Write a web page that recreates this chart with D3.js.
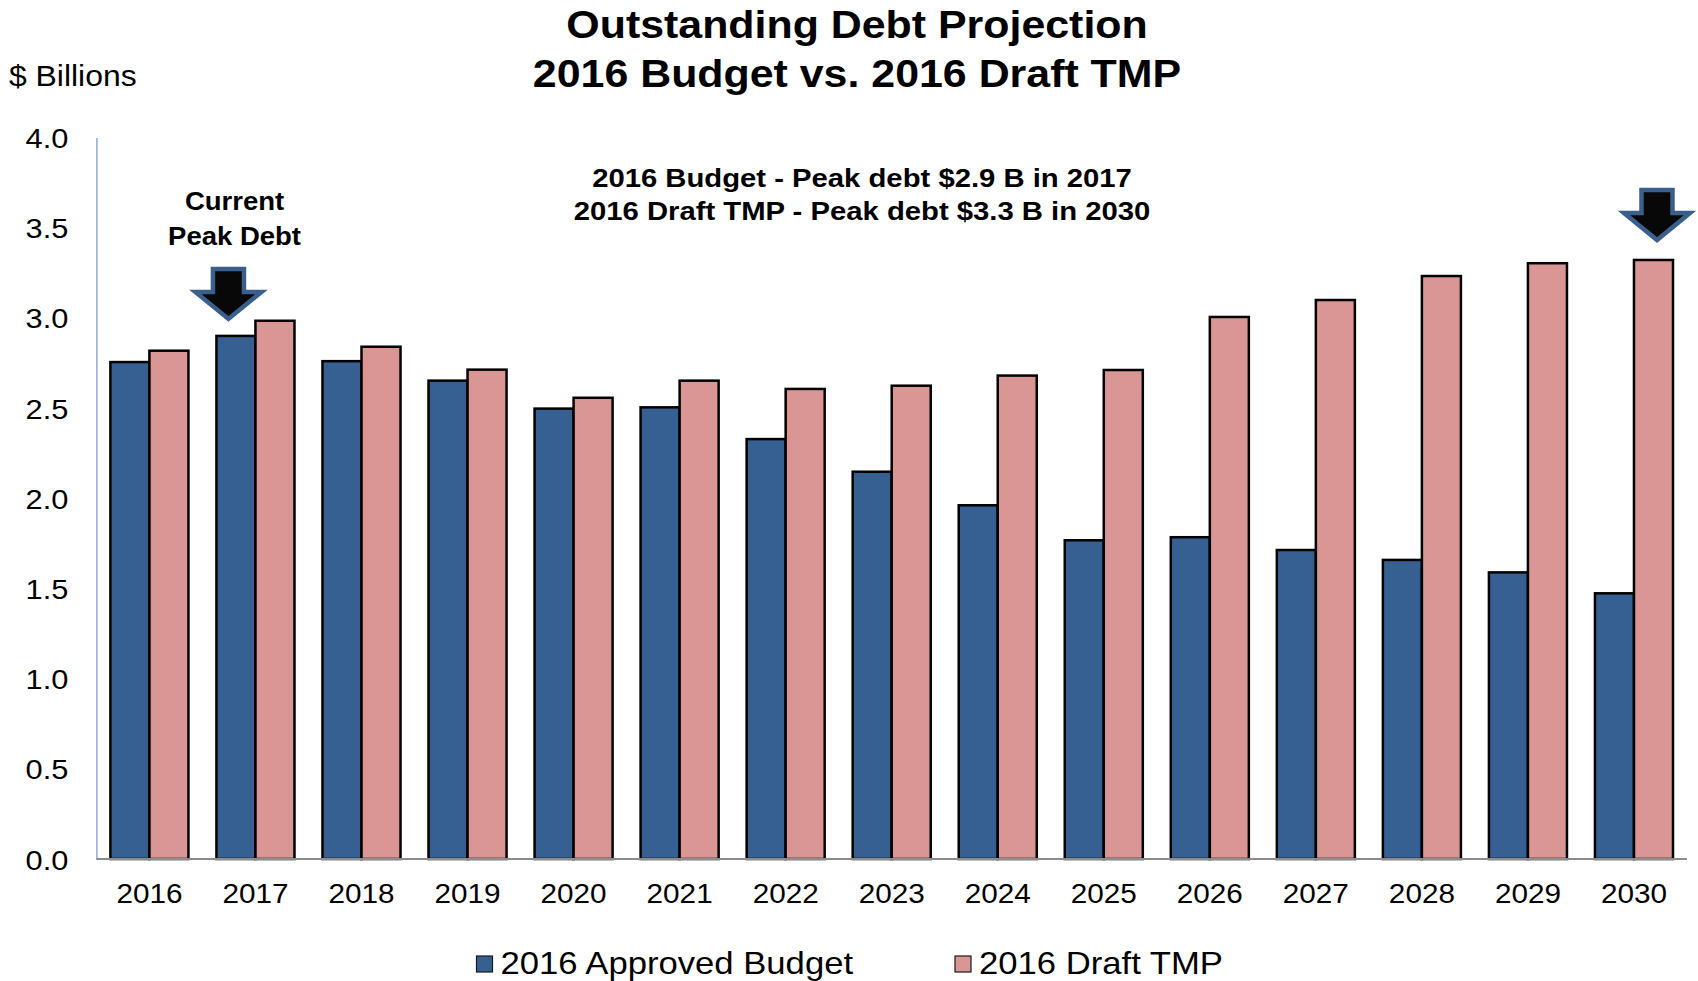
<!DOCTYPE html>
<html>
<head>
<meta charset="utf-8">
<script src="https://cdn.jsdelivr.net/npm/d3@7/dist/d3.min.js"></script>
<style>
  html, body { margin: 0; padding: 0; background: #ffffff; }
  svg { display: block; }
  text { font-family: "Liberation Sans", Arial, Helvetica, sans-serif; fill: #000; }
</style>
</head>
<body>
<svg id="chart" width="1698" height="981"></svg>
<script>
// ---- data -------------------------------------------------------------
const years = ["2016","2017","2018","2019","2020","2021","2022","2023",
               "2024","2025","2026","2027","2028","2029","2030"];
// Outstanding debt, $ billions
const approvedBudget = [2.755, 2.900, 2.760, 2.652, 2.497, 2.504, 2.328, 2.147,
                        1.961, 1.767, 1.784, 1.713, 1.658, 1.589, 1.473];
const draftTMP       = [2.818, 2.984, 2.840, 2.713, 2.557, 2.652, 2.606, 2.624,
                        2.680, 2.711, 3.005, 3.099, 3.232, 3.303, 3.321];
const seriesNames  = ["2016 Approved Budget", "2016 Draft TMP"];
const seriesColors = ["#376092", "#d99694"];
const yTicks = [0, 0.5, 1.0, 1.5, 2.0, 2.5, 3.0, 3.5, 4.0];

const titleLines = ["Outstanding Debt Projection", "2016 Budget vs. 2016 Draft TMP"];
const noteLines  = ["2016 Budget - Peak debt $2.9 B in 2017",
                    "2016 Draft TMP - Peak debt $3.3 B in 2030"];
const unitLabel  = "$ Billions";
const peakLabel  = ["Current", "Peak Debt"];

// ---- layout -----------------------------------------------------------
const svg = d3.select("#chart");
const SX = 1.1;   // horizontal widening applied to all text

const x = d3.scaleBand().domain(years).range([96.4, 1687])
  .paddingInner(0.264).paddingOuter(0.132);
const xInner = d3.scaleBand().domain([0, 1]).range([0, x.bandwidth()]);
const y = d3.scaleLinear().domain([0, 4]).range([859, 137.5]);

function label(g, str, px, py, size, weight, anchor) {
  return g.append("text")
    .attr("transform", `translate(${px},${py}) scale(${SX},1)`)
    .attr("text-anchor", anchor || "middle")
    .style("font-size", size + "px")
    .style("font-weight", weight || "normal")
    .text(str);
}

// ---- titles -----------------------------------------------------------
label(svg, titleLines[0], 857, 38, 39, "bold");
label(svg, titleLines[1], 857, 87, 39, "bold");
label(svg, unitLabel, 9, 86, 29, "normal", "start");
label(svg, noteLines[0], 862, 186.5, 26.6, "bold");
label(svg, noteLines[1], 862, 220, 26.6, "bold");

// ---- axes -------------------------------------------------------------
const yAxis = d3.axisLeft(y).tickValues(yTicks).tickSize(0).tickPadding(0)
  .tickFormat(d3.format(".1f"));
const gy = svg.append("g").attr("transform", "translate(96.4,0)").call(yAxis);
gy.select(".domain").attr("stroke", "#8eaadb").attr("stroke-width", 1.5);
gy.selectAll(".tick text")
  .attr("x", null).attr("dy", null)
  .attr("transform", "translate(-28,10) scale(1.1,1)")
  .attr("text-anchor", "end")
  .style("font-size", "28px");

const xAxis = d3.axisBottom(x).tickSize(0).tickPadding(0);
const gx = svg.append("g").attr("transform", `translate(0,${y(0)})`).call(xAxis);
gx.select(".domain").remove();
gx.selectAll(".tick text")
  .attr("y", null).attr("dy", null)
  .attr("transform", "translate(0,44) scale(1.1,1)")
  .style("font-size", "27px");

// ---- bars -------------------------------------------------------------
const rows = years.map((yr, i) => ({ year: yr, values: [approvedBudget[i], draftTMP[i]] }));
const groups = svg.append("g").selectAll("g").data(rows).join("g")
  .attr("transform", d => `translate(${x(d.year)},0)`);
groups.selectAll("rect")
  .data(d => d.values.map((v, k) => ({ v, k })))
  .join("rect")
  .attr("x", d => xInner(d.k))
  .attr("width", xInner.bandwidth())
  .attr("y", d => y(d.v))
  .attr("height", d => y(0) - y(d.v))
  .attr("fill", d => seriesColors[d.k])
  .attr("stroke", "#000")
  .attr("stroke-width", 2.5);

// category axis baseline drawn over bar bottoms
svg.append("line")
  .attr("x1", 96.4).attr("x2", 1687)
  .attr("y1", y(0)).attr("y2", y(0))
  .attr("stroke", "#8c8c8c").attr("stroke-width", 2);

// ---- peak-debt arrows -------------------------------------------------
const peaks = [
  { year: "2017", series: 0, dx: -7.5, gap: 14 },
  { year: "2030", series: 1, dx: 3.5,  gap: 17 }
];
function arrowPath(cx, tipY) {
  const headW = 66, shaftW = 31, headH = 27, totalH = 50;
  const top = tipY - totalH, headTop = tipY - headH;
  return `M${cx - shaftW / 2},${top} L${cx + shaftW / 2},${top} L${cx + shaftW / 2},${headTop}` +
         ` L${cx + headW / 2},${headTop} L${cx},${tipY} L${cx - headW / 2},${headTop}` +
         ` L${cx - shaftW / 2},${headTop} Z`;
}
peaks.forEach(p => {
  const i = years.indexOf(p.year);
  const val = p.series === 0 ? approvedBudget[i] : draftTMP[i];
  const cx = x(p.year) + xInner(p.series) + xInner.bandwidth() / 2 + p.dx;
  const tipY = y(val) - p.gap - 3;
  svg.append("path")
    .attr("d", arrowPath(cx, tipY))
    .attr("fill", "#080808")
    .attr("stroke", "#3b5f8c")
    .attr("stroke-width", 4.5)
    .attr("stroke-linejoin", "miter");
});
label(svg, peakLabel[0], 234.5, 209.5, 25, "bold");
label(svg, peakLabel[1], 234.5, 245, 25, "bold");

// ---- legend -----------------------------------------------------------
const legendX = [476.5, 955];
seriesNames.forEach((name, k) => {
  svg.append("rect")
    .attr("x", legendX[k]).attr("y", 956)
    .attr("width", 16).attr("height", 16)
    .attr("fill", seriesColors[k])
    .attr("stroke", "#1a1a1a").attr("stroke-width", 1.2);
  label(svg, name, legendX[k] + 24, 973.5, 31.5, "normal", "start");
});
</script>
</body>
</html>
